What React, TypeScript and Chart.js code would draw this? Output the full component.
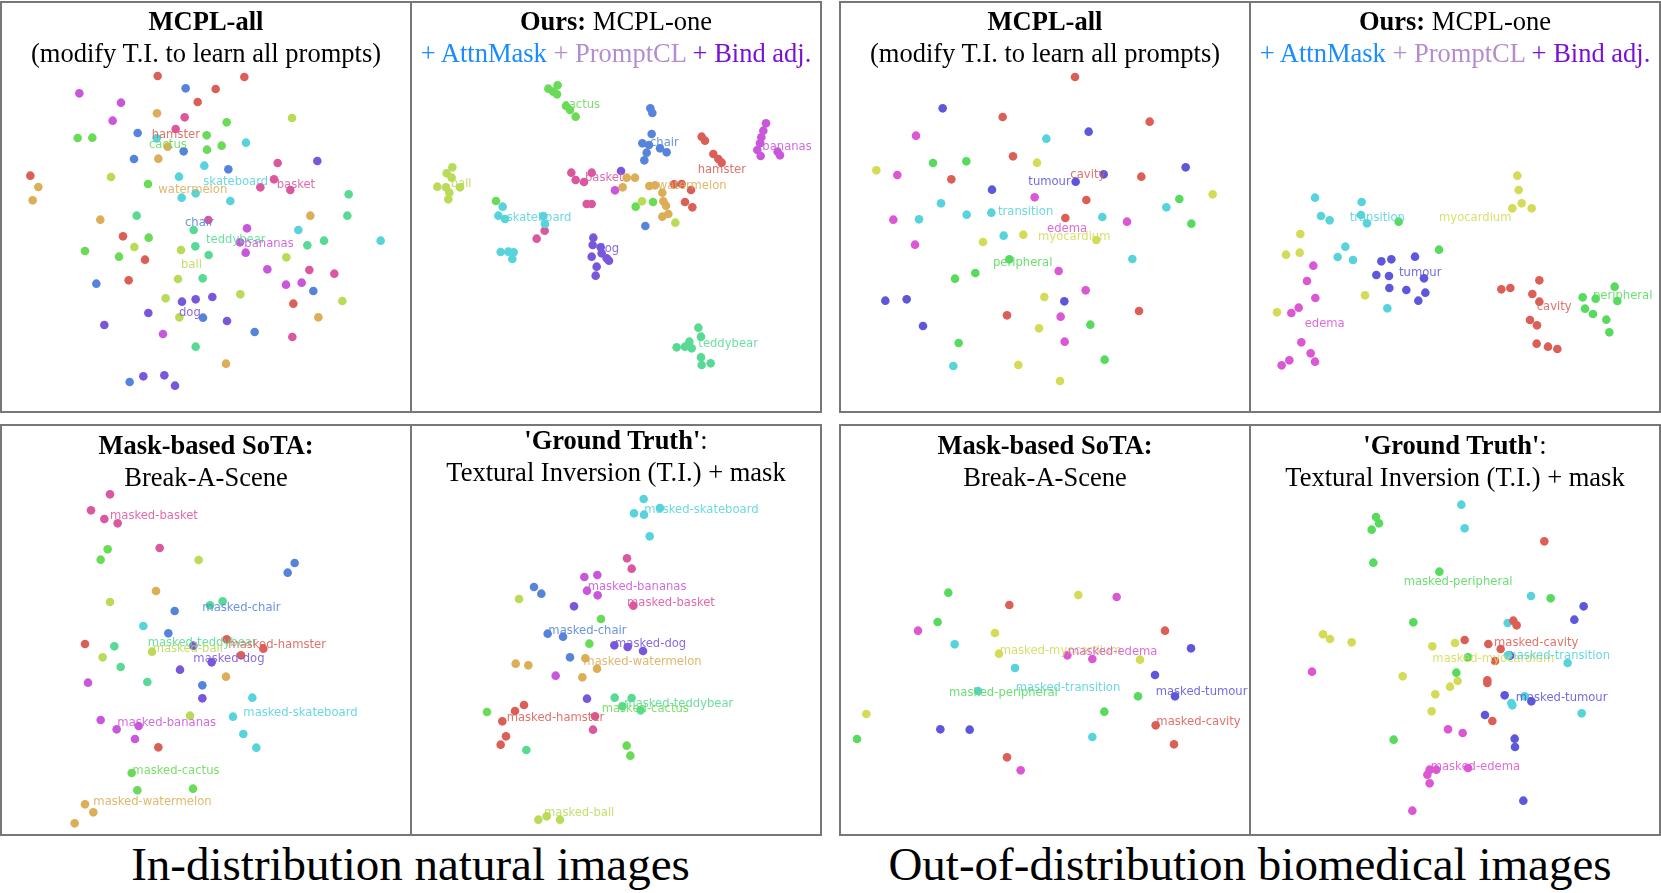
import React, { useEffect, useRef } from "react";
import { Chart, registerables } from "chart.js";

Chart.register(...registerables);

// ---------- categories & colours ----------
const natCategories = ["hamster", "watermelon", "ball", "cactus", "teddybear", "skateboard", "chair", "dog", "bananas", "basket"];
const natColors = ["#db5f57", "#dbae57", "#b9db57", "#69db57", "#57db94", "#57d3db", "#5784db", "#7957db", "#c957db", "#db579e"];
const medCategories = ["cavity", "myocardium", "peripheral", "transition", "tumour", "edema"];
const medColors = ["#db5f57", "#d3db57", "#57db5f", "#57d3db", "#5f57db", "#db57d3"];

// ---------- panel 1: natural, MCPL-all ----------
const natAllPoints: Record<string, number[][]> = {
  hamster: [[473, 228], [733, 231], [647, 267], [593, 306], [91, 527], [369, 709], [435, 779], [386, 841], [880, 911]],
  watermelon: [[471, 340], [503, 440], [475, 476], [115, 561], [98, 601], [301, 659], [931, 647], [955, 952], [678, 1091]],
  ball: [[876, 354], [333, 531], [403, 741], [543, 750], [859, 772], [534, 837], [497, 895], [721, 883], [1027, 903], [538, 952]],
  cactus: [[680, 367], [233, 414], [277, 413], [620, 406], [665, 437], [621, 449], [444, 552], [446, 713], [255, 753], [357, 770]],
  teddybear: [[1046, 583], [410, 647], [1042, 647], [581, 690], [972, 722], [922, 736], [586, 739], [626, 765], [608, 835], [587, 1040]],
  skateboard: [[470, 415], [738, 428], [613, 497], [537, 530], [587, 580], [545, 593], [691, 603], [895, 690], [1142, 722]],
  chair: [[557, 265], [413, 399], [551, 454], [402, 477], [685, 508], [289, 851], [940, 873], [609, 953], [764, 996], [389, 1146]],
  dog: [[952, 483], [546, 905], [587, 898], [637, 891], [445, 939], [681, 963], [313, 975], [430, 1129], [493, 1126], [525, 1157]],
  bananas: [[238, 280], [363, 308], [338, 362], [741, 685], [720, 727], [737, 758], [802, 808], [858, 854], [905, 848], [489, 1002]],
  basket: [[554, 352], [527, 387], [833, 489], [822, 538], [781, 562], [871, 570], [625, 660], [928, 810], [1003, 821], [877, 1011]],
};
const natAllLabels: [string, number, number][] = [
  ["hamster", 455, 415], ["cactus", 447, 443], ["skateboard", 610, 556], ["basket", 830, 564], ["watermelon", 475, 580],
  ["chair", 555, 679], ["teddybear", 618, 729], ["bananas", 733, 741], ["ball", 543, 803], ["dog", 537, 948],
];

// ---------- panel 2: natural, ours ----------
const natOursPoints: Record<string, number[][]> = {
  cactus: [[415, 266], [443, 256], [430, 275], [441, 283], [468, 318], [480, 330], [497, 350], [677, 620], [729, 606], [258, 603]],
  chair: [[721, 325], [727, 339], [725, 402], [697, 430], [717, 435], [750, 445], [770, 457], [710, 458], [703, 481], [706, 678]],
  hamster: [[875, 410], [885, 422], [910, 462], [925, 477], [935, 488], [843, 570], [815, 552], [792, 553], [825, 606], [847, 622]],
  bananas: [[1068, 370], [1060, 392], [1054, 412], [1050, 430], [1042, 450], [1052, 468], [1103, 455], [1110, 466], [615, 571]],
  ball: [[127, 502], [110, 520], [125, 533], [82, 560], [108, 562], [150, 562], [118, 578], [115, 598], [696, 604], [796, 668]],
  basket: [[484, 518], [497, 540], [522, 546], [545, 518], [530, 612], [545, 612], [404, 692], [380, 716]],
  watermelon: [[650, 533], [675, 533], [638, 562], [718, 558], [735, 556], [757, 578], [760, 604], [768, 617], [757, 650], [775, 642]],
  skateboard: [[278, 620], [265, 647], [285, 657], [405, 672], [400, 648], [272, 756], [295, 755], [311, 757], [307, 777]],
  dog: [[633, 513], [550, 713], [548, 735], [572, 742], [545, 770], [575, 760], [590, 775], [597, 782], [560, 800], [557, 827]],
  teddybear: [[865, 983], [873, 1010], [838, 1025], [825, 1040], [845, 1045], [800, 1042], [873, 1072], [875, 1095], [902, 1090]],
};
const natOursLabels: [string, number, number][] = [
  ["cactus", 457, 323], ["chair", 720, 438], ["hamster", 863, 520], ["bananas", 1057, 450], ["ball", 122, 560],
  ["basket", 525, 543], ["watermelon", 743, 568], ["skateboard", 290, 663], ["dog", 562, 755], ["teddybear", 865, 1040],
];

// ---------- panel 3: biomedical, MCPL-all ----------
const medAllPoints: Record<string, number[][]> = {
  cavity: [[711, 231], [494, 351], [935, 365], [525, 469], [340, 538], [910, 530], [745, 600], [682, 654], [507, 946], [903, 933]],
  tumour: [[314, 325], [752, 395], [1043, 502], [797, 523], [713, 545], [462, 569], [142, 902], [206, 898], [255, 978], [679, 904]],
  edema: [[234, 407], [178, 525], [590, 592], [166, 659], [231, 734], [867, 665], [662, 813], [743, 871], [668, 950], [680, 1025]],
  transition: [[625, 416], [309, 610], [243, 658], [386, 644], [460, 638], [497, 707], [793, 651], [985, 622], [883, 777], [346, 1098]],
  myocardium: [[115, 511], [597, 488], [1124, 583], [435, 726], [556, 704], [775, 720], [619, 891], [603, 985], [541, 1095], [666, 1143]],
  peripheral: [[285, 489], [385, 484], [1024, 597], [1060, 671], [514, 778], [412, 819], [351, 836], [757, 974], [362, 1029], [800, 1079]],
};
const medAllLabels: [string, number, number][] = [
  ["cavity", 697, 533], ["tumour", 571, 554], ["transition", 480, 645], ["edema", 627, 697], ["myocardium", 600, 720], ["peripheral", 465, 798],
];

// ---------- panel 4: biomedical, ours ----------
const medOursPoints: Record<string, number[][]> = {
  myocardium: [[808, 527], [812, 570], [821, 610], [793, 625], [851, 625], [157, 702], [114, 764], [155, 758], [351, 886], [87, 937]],
  transition: [[201, 593], [341, 606], [219, 648], [245, 661], [339, 645], [357, 670], [292, 740], [269, 771], [315, 780], [418, 925]],
  peripheral: [[452, 665], [573, 749], [1100, 860], [1004, 892], [1043, 896], [1108, 903], [1011, 926], [1035, 942], [1075, 959], [1084, 997]],
  tumour: [[400, 784], [430, 778], [501, 770], [385, 825], [423, 828], [528, 835], [424, 864], [475, 870], [532, 878], [511, 902]],
  edema: [[196, 797], [177, 843], [202, 894], [152, 923], [130, 939], [160, 1027], [188, 1060], [201, 1085], [124, 1081], [101, 1096]],
  cavity: [[760, 868], [787, 864], [874, 841], [853, 882], [874, 905], [846, 960], [867, 976], [866, 1031], [900, 1040], [928, 1047]],
};
const medOursLabels: [string, number, number][] = [
  ["transition", 305, 662], ["myocardium", 573, 662], ["tumour", 453, 828], ["peripheral", 1035, 897], ["cavity", 866, 930], ["edema", 170, 982],
];

// ---------- panel 5: natural, Break-A-Scene ----------
const natBasPoints: Record<string, number[][]> = {
  basket: [[330, 214], [273, 262], [313, 288], [353, 301], [479, 375]],
  cactus: [[323, 379], [302, 410], [395, 1050], [412, 1102], [579, 1097]],
  ball: [[596, 411], [330, 537], [308, 703], [456, 686], [570, 878]],
  chair: [[884, 420], [863, 449], [524, 564], [505, 631], [607, 787]],
  watermelon: [[468, 504], [678, 761], [255, 1144], [280, 1168], [224, 1201]],
  teddybear: [[668, 535], [630, 547], [343, 670], [362, 732], [442, 777]],
  skateboard: [[430, 609], [757, 824], [699, 881], [730, 933], [769, 974]],
  hamster: [[255, 663], [680, 649], [723, 697], [790, 677], [475, 973]],
  dog: [[540, 740], [607, 826], [635, 718], [580, 668]],
  bananas: [[264, 779], [302, 891], [350, 919], [405, 948], [416, 909]],
};
const natBasLabels: [string, number, number][] = [
  ["masked-basket", 330, 288], ["masked-chair", 607, 563], ["masked-teddybear", 443, 668], ["masked-ball", 458, 686],
  ["masked-hamster", 685, 675], ["masked-dog", 580, 718], ["masked-skateboard", 730, 880], ["masked-bananas", 352, 908],
  ["masked-cactus", 397, 1052], ["masked-watermelon", 280, 1145],
];

// ---------- panel 6: natural, ground truth ----------
const natGtPoints: Record<string, number[][]> = {
  skateboard: [[701, 228], [750, 255], [672, 271], [702, 275], [719, 340]],
  basket: [[651, 406], [665, 437], [670, 548], [549, 920], [555, 880]],
  bananas: [[523, 462], [562, 456], [531, 503], [563, 517], [437, 758]],
  chair: [[372, 492], [394, 512], [413, 632], [459, 641], [480, 703]],
  ball: [[327, 528], [385, 1190], [410, 1180], [450, 1190]],
  dog: [[492, 550], [613, 667], [653, 672], [699, 684], [531, 827]],
  cactus: [[573, 588], [538, 662], [231, 867], [650, 968], [661, 998]],
  watermelon: [[317, 722], [355, 727], [526, 706], [561, 737], [517, 763]],
  teddybear: [[614, 824], [665, 825], [637, 850], [692, 862], [349, 981]],
  hamster: [[342, 846], [315, 864], [277, 895], [288, 940], [272, 965]],
};
const natGtLabels: [string, number, number][] = [
  ["masked-skateboard", 703, 270], ["masked-bananas", 533, 502], ["masked-basket", 651, 548], ["masked-chair", 415, 632],
  ["masked-dog", 615, 672], ["masked-watermelon", 520, 727], ["masked-teddybear", 643, 852], ["masked-cactus", 575, 868],
  ["masked-hamster", 290, 893], ["masked-ball", 402, 1180],
];

// ---------- panel 7: biomedical, Break-A-Scene ----------
const medBasPoints: Record<string, number[][]> = {
  peripheral: [[331, 509], [299, 597], [900, 820], [799, 866], [57, 948]],
  cavity: [[514, 546], [981, 623], [953, 907], [1008, 964], [507, 1003]],
  myocardium: [[721, 516], [471, 630], [483, 692], [906, 710], [85, 873]],
  edema: [[836, 522], [240, 623], [688, 697], [763, 708], [548, 1042]],
  transition: [[350, 664], [531, 735], [420, 804], [763, 942]],
  tumour: [[1059, 676], [951, 756], [1011, 820], [307, 919], [395, 920]],
};
const medBasLabels: [string, number, number][] = [
  ["masked-myocardium", 485, 692], ["masked-edema", 690, 697], ["masked-transition", 533, 805],
  ["masked-peripheral", 333, 820], ["masked-tumour", 953, 817], ["masked-cavity", 955, 907],
];

// ---------- panel 8: biomedical, ground truth ----------
const medGtPoints: Record<string, number[][]> = {
  peripheral: [[384, 282], [393, 301], [371, 320], [376, 419], [574, 446], [908, 526], [496, 598], [625, 749], [437, 950], [660, 703]],
  transition: [[640, 245], [650, 316], [849, 519], [779, 600], [959, 720], [790, 840], [793, 847], [1001, 871], [830, 820], [780, 697]],
  cavity: [[889, 355], [796, 593], [806, 607], [650, 651], [721, 663], [758, 678], [741, 714], [718, 772], [718, 780], [733, 894]],
  tumour: [[1007, 550], [979, 590], [770, 817], [850, 835], [711, 876], [800, 947], [801, 972], [826, 1133], [786, 698]],
  myocardium: [[225, 634], [246, 648], [311, 658], [553, 670], [621, 660], [464, 760], [629, 774], [606, 791], [562, 814], [551, 865]],
  edema: [[192, 746], [600, 919], [644, 930], [545, 1040], [538, 1055], [565, 1040], [545, 1081], [493, 1163], [660, 1035]],
};
const medGtLabels: [string, number, number][] = [
  ["masked-peripheral", 467, 485], ["masked-cavity", 738, 670], ["masked-myocardium", 553, 716],
  ["masked-transition", 772, 708], ["masked-tumour", 803, 835], ["masked-edema", 548, 1041],
];

// ---------- layout ----------
const SERIF = '"Liberation Serif", "Times New Roman", Times, serif';
const TITLE_SIZE = 26.5;
const CANVAS_W = 413;
const CANVAS_H = 414;

type PanelDef = {
  box: [number, number];
  origin: [number, number];
  points: Record<string, number[][]>;
  labels: [string, number, number][];
  cats: string[];
  colors: string[];
  line1: React.ReactNode;
  line2: React.ReactNode;
  t1: number;
  t2: number;
};

const oursLine2 = (
  <>
    <span style={{ color: "#1a8cff" }}>+ AttnMask</span> <span style={{ color: "#b48dcc" }}>+ PromptCL</span>{" "}
    <span style={{ color: "#7a10d6" }}>+ Bind adj.</span>
  </>
);

const PANELS: PanelDef[] = [
  { box: [0, 1], origin: [0, 0], points: natAllPoints, labels: natAllLabels, cats: natCategories, colors: natColors,
    line1: <b>MCPL-all</b>, line2: "(modify T.I. to learn all prompts)", t1: 7.8, t2: 39.8 },
  { box: [410, 1], origin: [410, 0], points: natOursPoints, labels: natOursLabels, cats: natCategories, colors: natColors,
    line1: <><b>Ours:</b> MCPL-one</>, line2: oursLine2, t1: 7.8, t2: 39.6 },
  { box: [839, 1], origin: [838, 0], points: medAllPoints, labels: medAllLabels, cats: medCategories, colors: medColors,
    line1: <b>MCPL-all</b>, line2: "(modify T.I. to learn all prompts)", t1: 7.8, t2: 39.8 },
  { box: [1249, 1], origin: [1248, 0], points: medOursPoints, labels: medOursLabels, cats: medCategories, colors: medColors,
    line1: <><b>Ours:</b> MCPL-one</>, line2: oursLine2, t1: 7.8, t2: 39.6 },
  { box: [0, 424], origin: [0, 423], points: natBasPoints, labels: natBasLabels, cats: natCategories, colors: natColors,
    line1: <b>Mask-based SoTA:</b>, line2: "Break-A-Scene", t1: 431.5, t2: 463.5 },
  { box: [410, 424], origin: [410, 423], points: natGtPoints, labels: natGtLabels, cats: natCategories, colors: natColors,
    line1: <><b>'Ground Truth'</b>:</>, line2: "Textural Inversion (T.I.) + mask", t1: 426.8, t2: 459.1 },
  { box: [839, 424], origin: [838, 423], points: medBasPoints, labels: medBasLabels, cats: medCategories, colors: medColors,
    line1: <b>Mask-based SoTA:</b>, line2: "Break-A-Scene", t1: 431.5, t2: 463.5 },
  { box: [1249, 424], origin: [1248, 423], points: medGtPoints, labels: medGtLabels, cats: medCategories, colors: medColors,
    line1: <><b>'Ground Truth'</b>:</>, line2: "Textural Inversion (T.I.) + mask", t1: 431.5, t2: 463.8 },
];

const labelPlugin = {
  id: "clusterLabels",
  afterDatasetsDraw(chart: any, _args: any, opts: any) {
    const { ctx, scales } = chart;
    const items: [string, number, number][] = opts.items || [];
    ctx.save();
    ctx.font = '11.6px "DejaVu Sans"';
    ctx.textAlign = "left";
    ctx.textBaseline = "alphabetic";
    for (const [text, lx, ly] of items) {
      const key = text.replace("masked-", "");
      const idx = opts.cats.indexOf(key);
      ctx.fillStyle = (opts.colors[idx] || "#000") + "e0";
      ctx.fillText(text, scales.x.getPixelForValue(lx), scales.y.getPixelForValue(ly));
    }
    ctx.restore();
  },
};

function ScatterPanel({ def }: { def: PanelDef }) {
  const ref = useRef<HTMLCanvasElement>(null);
  useEffect(() => {
    if (!ref.current) return;
    const datasets = def.cats
      .filter((c) => def.points[c])
      .map((c) => {
        const color = def.colors[def.cats.indexOf(c)];
        return {
          label: c,
          data: def.points[c].map(([x, y]) => ({ x, y })),
          backgroundColor: color,
          borderWidth: 0,
          pointRadius: 4.3,
          pointHoverRadius: 4.3,
        };
      });
    const chart = new Chart(ref.current, {
      type: "scatter",
      data: { datasets },
      options: {
        animation: false,
        responsive: false,
        maintainAspectRatio: false,
        devicePixelRatio: 1,
        events: [],
        layout: { padding: 0, autoPadding: false },
        clip: false,
        plugins: {
          legend: { display: false },
          tooltip: { enabled: false },
          clusterLabels: { items: def.labels, cats: def.cats, colors: def.colors },
        } as any,
        scales: {
          x: { type: "linear", display: false, min: 0, max: CANVAS_W * 3 },
          y: { type: "linear", display: false, min: 0, max: CANVAS_H * 3, reverse: true },
        },
      } as any,
      plugins: [labelPlugin as any],
    });
    return () => chart.destroy();
  }, [def]);

  const [bx, by] = def.box;
  const [ox, oy] = def.origin;
  const titleStyle: React.CSSProperties = {
    position: "absolute",
    left: bx,
    width: 412,
    textAlign: "center",
    fontFamily: SERIF,
    fontSize: TITLE_SIZE,
    lineHeight: `${TITLE_SIZE}px`,
    whiteSpace: "nowrap",
    color: "#000",
    zIndex: 3,
  };
  return (
    <>
      <div
        style={{
          position: "absolute",
          left: bx,
          top: by,
          width: 412,
          height: 412,
          boxSizing: "border-box",
          border: "2px solid #777",
          zIndex: 1,
        }}
      />
      <canvas
        ref={ref}
        width={CANVAS_W}
        height={CANVAS_H}
        style={{ position: "absolute", left: ox, top: oy, width: CANVAS_W, height: CANVAS_H, zIndex: 2 }}
      />
      <div style={{ ...titleStyle, top: def.t1 }}>{def.line1}</div>
      <div style={{ ...titleStyle, top: def.t2 }}>{def.line2}</div>
    </>
  );
}

export default function App() {
  const captionStyle: React.CSSProperties = {
    position: "absolute",
    top: 840.6,
    fontFamily: SERIF,
    fontSize: 47,
    lineHeight: "47px",
    textAlign: "center",
    whiteSpace: "nowrap",
    color: "#000",
  };
  return (
    <div style={{ position: "absolute", left: 0, top: 0, width: 1661, height: 893, background: "#fff", overflow: "hidden" }}>
      {PANELS.map((p, i) => (
        <ScatterPanel key={i} def={p} />
      ))}
      <div style={{ ...captionStyle, left: 0, width: 821 }}>In-distribution natural images</div>
      <div style={{ ...captionStyle, left: 839, width: 822 }}>Out-of-distribution biomedical images</div>
    </div>
  );
}
